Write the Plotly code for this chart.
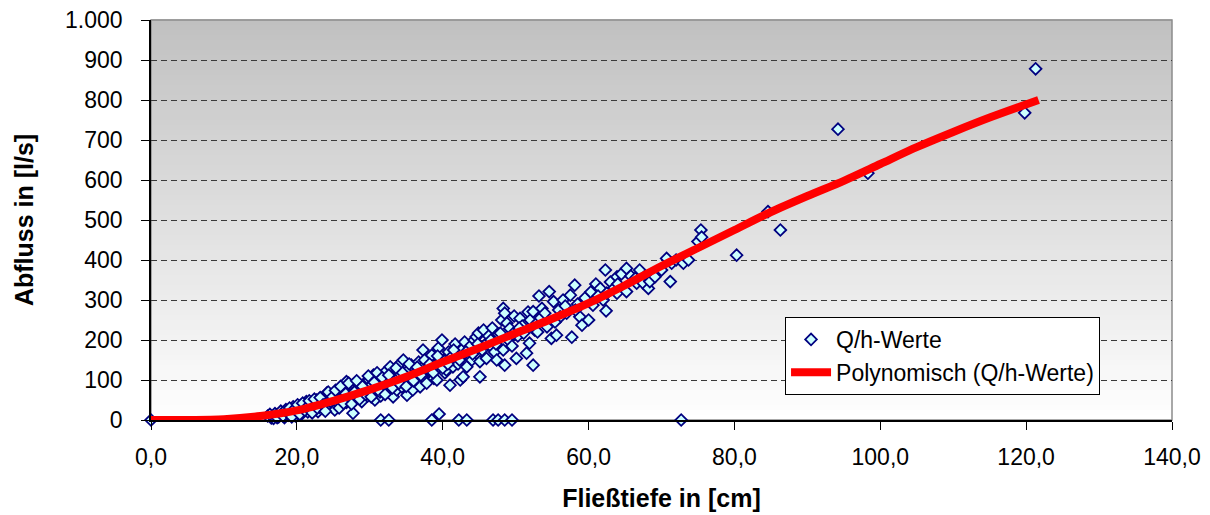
import plotly.graph_objects as go

# ---- data ----
H_VALUES = [
    0.0, 16.5, 16.8, 17.2, 17.5, 18.0, 18.3, 18.6, 18.9, 19.2, 19.5, 19.5, 19.8,
    20.0, 20.2, 20.5, 20.7, 21.0, 21.2, 21.3, 21.5, 21.8, 22.0, 22.2, 22.5, 22.7,
    22.9, 23.1, 23.3, 23.5, 23.8, 24.0, 24.1, 24.2, 24.5, 24.7, 25.0, 25.2, 25.4,
    25.6, 25.9, 26.1, 26.3, 26.5, 26.8, 26.8, 27.0, 27.2, 27.4, 27.6, 27.7, 27.8,
    28.1, 28.3, 28.5, 28.7, 28.9, 29.1, 29.3, 29.5, 29.7, 29.9, 30.1, 30.3, 30.5,
    30.7, 30.9, 31.1, 31.3, 31.5, 31.8, 32.0, 32.3, 32.5, 32.8, 33.0, 33.2, 33.5,
    33.7, 33.9, 34.1, 34.4, 34.6, 34.8, 35.1, 35.3, 35.5, 35.7, 35.9, 36.2, 36.4,
    36.7, 36.9, 37.1, 37.3, 37.6, 37.8, 38.0, 38.3, 38.5, 38.8, 39.0, 39.2, 39.4,
    39.6, 39.9, 40.1, 40.3, 40.5, 40.8, 41.0, 41.2, 41.4, 41.7, 41.9, 42.1, 42.4,
    42.6, 42.8, 43.0, 43.3, 43.5, 43.7, 44.0, 44.3, 44.6, 44.9, 45.1, 45.1, 45.4,
    45.6, 45.9, 46.0, 46.3, 46.5, 46.8, 47.1, 47.4, 47.6, 47.9, 48.1, 48.3, 48.3,
    48.5, 48.5, 48.8, 49.0, 49.2, 49.5, 49.8, 50.1, 50.3, 50.6, 50.9, 51.1, 51.5,
    51.7, 51.9, 52.0, 52.4, 52.4, 52.6, 52.9, 53.2, 53.4, 53.6, 54.0, 54.3, 54.6,
    54.9, 55.2, 55.6, 55.9, 56.1, 56.5, 57.0, 57.5, 57.7, 58.1, 58.5, 58.8, 59.1,
    59.5, 60.0, 60.3, 60.6, 61.0, 61.6, 62.0, 62.3, 62.4, 62.5, 63.0, 63.5, 63.9,
    63.9, 64.5, 65.2, 65.2, 65.8, 66.4, 66.6, 67.0, 67.5, 68.2, 68.4, 68.4, 69.1,
    70.0, 70.7, 71.2, 71.4, 72.0, 73.0, 73.7, 75.0, 75.4, 75.5, 80.3, 84.6, 86.3,
    94.2, 98.3, 119.8, 121.3,
    16.0, 16.3, 17.0, 17.3, 17.8, 18.1, 18.5, 18.8, 19.0, 19.3, 19.7, 20.1, 20.4,
    20.8, 21.1, 21.4, 21.7, 22.1, 22.4, 22.8, 23.2, 23.6, 23.9, 24.3, 24.6, 24.9,
    25.3, 25.8, 26.0, 26.4, 26.7, 27.1, 27.5, 27.9, 28.2, 28.6, 29.0, 29.4, 29.8,
    30.2, 30.6, 31.0, 31.4, 31.7, 32.1, 32.6, 33.1, 33.6, 34.0, 34.5, 35.0, 35.4,
    36.0, 36.5, 37.0, 37.5, 38.2, 38.7, 39.3, 40.0, 40.7, 41.5, 42.3, 43.2, 44.1,
    44.8, 46.6, 47.3, 49.6, 50.5, 53.0, 55.4, 56.8, 58.2, 61.3, 64.0,
    31.5, 32.6, 38.5, 39.5, 42.2, 43.3, 46.9, 47.6, 48.5, 49.5, 72.7,
]
Q_VALUES = [
    0, 5, 4, 12, 8, 15, 6, 20, 12, 24, 18, 33, 10,
    30, 22, 36, 16, 28, 40, 46, 20, 34, 44, 26, 38, 50,
    21, 32, 46, 55, 28, 40, 67, 52, 62, 34, 45, 25, 58,
    68, 38, 50, 72, 62, 44, 96, 80, 56, 86, 66, 17, 48,
    74, 90, 58, 82, 46, 68, 92, 78, 60, 100, 85, 70, 112,
    50, 108, 90, 76, 60, 98, 118, 84, 70, 133, 100, 58, 88,
    75, 120, 140, 83, 150, 105, 62, 125, 95, 137, 75, 110, 121,
    145, 83, 130, 175, 100, 92, 150, 121, 162, 104, 135, 100, 180,
    142, 200, 150, 118, 125, 170, 87, 158, 133, 190, 158, 140, 100,
    175, 108, 195, 133, 160, 183, 150, 200, 208, 217, 108, 146, 175,
    225, 190, 154, 210, 187, 230, 170, 150, 215, 217, 250, 175, 279,
    137, 267, 242, 200, 229, 185, 260, 154, 210, 254, 235, 217, 167,
    270, 192, 250, 137, 271, 225, 242, 310, 255, 279, 267, 233, 321,
    204, 296, 212, 275, 258, 300, 267, 312, 207, 337, 290, 258, 237,
    305, 250, 320, 287, 340, 329, 300, 375, 273, 317, 345, 330, 358,
    317, 365, 379, 321, 360, 354, 342, 375, 342, 329, 350, 346, 358,
    375, 404, 346, 392, 400, 392, 400, 446, 475, 457, 412, 521, 475,
    727, 617, 768, 878,
    10, 14, 16, 6, 22, 10, 26, 17, 30, 8, 28, 38, 14,
    42, 24, 32, 48, 18, 52, 30, 56, 38, 22, 70, 46, 58,
    74, 30, 84, 42, 66, 92, 40, 70, 98, 52, 84, 64, 110,
    58, 94, 118, 70, 106, 64, 112, 80, 130, 92, 118, 84, 140,
    98, 132, 112, 150, 140, 118, 160, 130, 140, 175, 150, 170, 165,
    190, 200, 190, 215, 230, 220, 245, 285, 275, 310, 340,
    0, 0, 0, 15, 0, 0, 0, 0, 0, 0, 0,
]

TREND_H = [0, 5, 10, 15, 20, 25, 30, 35, 40, 45, 50, 55, 60, 65, 70, 75, 80,
           85, 90, 95, 100, 105, 110, 115, 121.7]
TREND_Q = [0, 0, 2, 10, 24, 48, 76, 108, 145, 180, 217, 253, 292, 337, 385,
           430, 475, 520, 560, 598, 640, 682, 720, 756, 800]

X_TICKS = [0, 20, 40, 60, 80, 100, 120, 140]
Y_TICKS = [0, 100, 200, 300, 400, 500, 600, 700, 800, 900, 1000]

FONT = "Arial, Liberation Sans, sans-serif"

fig = go.Figure()

# gradient plot background (grey at top -> white at bottom)
N = 80
for i in range(N):
    t = i / N
    c = int(round(255 - (255 - 192) * (t + 0.5 / N)))
    c = max(192, min(255, c))
    fig.add_shape(type="rect", xref="x domain", yref="y domain",
                  x0=0, x1=1, y0=t, y1=(i + 1) / N + 0.002,
                  fillcolor=f"rgb({c},{c},{c})", line_width=0, layer="below")

# plot frame (grey top/right)
fig.add_shape(type="rect", xref="x domain", yref="y domain", x0=0, x1=1, y0=0, y1=1,
              line=dict(color="#8c8c8c", width=1.5), fillcolor="rgba(0,0,0,0)",
              layer="below")

fig.add_trace(go.Scatter(
    x=H_VALUES, y=Q_VALUES, mode="markers", name="Q/h-Werte",
    legendgroup="a",
    marker=dict(symbol="diamond", size=9, color="#CCFFFF",
                line=dict(color="#000080", width=1.8)),
    cliponaxis=False,
))
fig.add_trace(go.Scatter(
    x=TREND_H, y=TREND_Q, mode="lines", name="Polynomisch (Q/h-Werte)",
    legendgroup="b",
    line=dict(color="#FF0000", width=8, shape="spline", smoothing=0.8),
))

fig.update_layout(
    width=1210, height=515,
    margin=dict(l=151, r=38, t=20, b=95, autoexpand=False),
    paper_bgcolor="white", plot_bgcolor="rgba(0,0,0,0)",
    separators=",.",
    font=dict(family=FONT, size=23, color="black"),
    showlegend=True,
    legend=dict(x=0.621, y=0.2575, xanchor="left", yanchor="top",
                bgcolor="white", bordercolor="black", borderwidth=1,
                font=dict(size=23, family=FONT), tracegroupgap=0,
                itemwidth=40, entrywidth=280, entrywidthmode="pixels"),
)
fig.update_xaxes(
    range=[0, 140], tickvals=X_TICKS, tickformat=".1f",
    showgrid=False, zeroline=False,
    showline=True, linecolor="black", linewidth=1.5,
    ticks="outside", ticklen=8, tickcolor="black", tickwidth=1,
    ticklabelstandoff=8,
    tickfont=dict(size=23),
    title=dict(text="<b>Fließtiefe in [cm]</b>", font=dict(size=25), standoff=20),
)
fig.update_yaxes(
    range=[0, 1000], tickvals=Y_TICKS, tickformat=",.0f",
    showgrid=True, gridcolor="#3a3a3a", gridwidth=1, griddash="6px,4px",
    zeroline=False,
    showline=True, linecolor="black", linewidth=1.5,
    ticks="outside", ticklen=8, tickcolor="black", tickwidth=1,
    ticklabelstandoff=14,
    tickfont=dict(size=23),
    title=dict(text="<b>Abfluss in [l/s]</b>", font=dict(size=25), standoff=24),
)

fig.write_html("out.html")
